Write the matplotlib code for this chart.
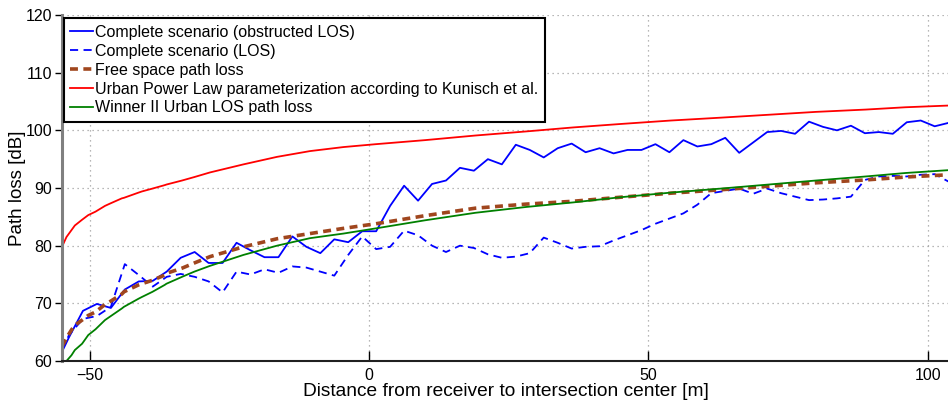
import matplotlib
matplotlib.use('Agg')
import matplotlib.pyplot as plt

plt.rcParams['font.family'] = ['Liberation Sans', 'DejaVu Sans']

# --------------------------
# DATA
# --------------------------

# measured curves, 2.5 m grid
x_meas = [-55, -53.75, -51.25, -48.75, -46.25, -43.75, -41.25, -38.75, -36.25, -33.75,
          -31.25, -28.75, -26.25, -23.75, -21.25, -18.75, -16.25, -13.75, -11.25, -8.75,
          -6.25, -3.75, -1.25, 1.25, 3.75, 6.25, 8.75, 11.25, 13.75, 16.25,
          18.75, 21.25, 23.75, 26.25, 28.75, 31.25, 33.75, 36.25, 38.75, 41.25,
          43.75, 46.25, 48.75, 51.25, 53.75, 56.25, 58.75, 61.25, 63.75, 66.25,
          68.75, 71.25, 73.75, 76.25, 78.75, 81.25, 83.75, 86.25, 88.75, 91.25,
          93.75, 96.25, 98.75, 101.25, 103.75]

obstructed_los = [61.6, 64.1, 68.7, 69.9, 69.2, 72.4, 73.8, 73.9, 75.5, 77.9,
                  78.9, 77.0, 77.0, 80.5, 79.2, 78.0, 78.0, 81.6, 79.8, 78.7,
                  81.1, 80.6, 82.5, 82.5, 86.9, 90.4, 87.8, 90.7, 91.3, 93.5,
                  93.0, 95.0, 94.1, 97.5, 96.6, 95.3, 96.9, 97.7, 96.2, 96.9,
                  96.0, 96.6, 96.6, 97.6, 96.2, 98.3, 97.2, 97.6, 98.7, 96.1,
                  97.9, 99.7, 99.9, 99.4, 101.5, 100.6, 100.0, 100.8, 99.5, 99.7,
                  99.4, 101.4, 101.7, 100.7, 101.3]

los = [61.9, 64.5, 67.3, 67.8, 69.4, 76.8, 74.9, 72.9, 74.6, 75.1,
       74.6, 73.8, 71.9, 75.5, 75.0, 75.9, 75.3, 76.4, 76.2, 75.5,
       74.8, 78.4, 81.6, 79.4, 79.8, 82.6, 81.8, 80.0, 78.9, 80.0,
       79.6, 78.5, 77.9, 78.1, 78.7, 81.4, 80.5, 79.5, 79.8, 79.9,
       80.9, 81.8, 82.7, 83.8, 84.7, 85.6, 87.1, 89.1, 89.5, 89.9,
       89.0, 89.9, 89.1, 88.5, 87.9, 88.0, 88.2, 88.5, 91.4, 92.0,
       92.1, 92.0, 92.3, 92.4, 91.1]

# model curves
x_model = [-55, -54.2, -53.3, -52.7, -51.4, -50.3, -49, -47.3, -46.4, -44.3, -43.9,
           -41.3, -40.7, -38.8, -36.6, -36.3, -33.5, -31.3, -28.5, -22.5, -16.5,
           -10.6, -4.6, 1.2, 10, 19, 28, 36.5, 45, 54, 63, 71.5, 80, 88.9, 96, 103.8]

free_space = [62.5, 64.0, 65.4, 66.2, 67.1, 67.9, 68.5, 69.8, 70.3, 71.6, 72.0,
              73.2, 73.4, 74.0, 74.9, 75.2, 76.1, 77.0, 78.1, 79.8, 81.2,
              82.1, 83.0, 83.8, 85.2, 86.5, 87.2, 87.7, 88.4, 89.1, 89.7, 90.3, 90.9, 91.4, 91.9, 92.3]

urban_power_law = [79.8, 81.5, 82.7, 83.5, 84.5, 85.3, 85.9, 86.9, 87.3, 88.2, 88.3,
                   89.2, 89.4, 89.9, 90.5, 90.6, 91.3, 91.9, 92.7, 94.1, 95.4,
                   96.4, 97.1, 97.6, 98.3, 99.1, 99.8, 100.5, 101.1, 101.7, 102.2, 102.7, 103.2, 103.6, 104.0, 104.3]

winner_los = [58.8, 60.0, 61.0, 61.9, 63.0, 64.5, 65.5, 67.1, 67.7, 69.1, 69.4,
              70.8, 71.1, 72.0, 73.2, 73.4, 74.6, 75.5, 76.5, 78.4, 80.0,
              81.3, 82.1, 83.0, 84.4, 85.7, 86.7, 87.5, 88.4, 89.2, 89.9, 90.6, 91.3, 92.0, 92.6, 93.1]

labels = ['Complete scenario (obstructed LOS)',
          'Complete scenario (LOS)',
          'Free space path loss',
          'Urban Power Law parameterization according to Kunisch et al.',
          'Winner II Urban LOS path loss']

# --------------------------
# PLOT
# --------------------------
fig = plt.figure(figsize=(9.48, 4.03), dpi=100)
ax = fig.add_axes([0.0654, 0.1042, 0.9356, 0.8586])

ax.plot(x_meas, obstructed_los, color='#0000ff', lw=1.3, label=labels[0])
ax.plot(x_meas, los, color='#0000ff', lw=1.3, dashes=(4.5, 3), label=labels[1])
ax.plot(x_model, free_space, color='#a0461e', lw=2.6, dashes=(2.2, 1.5), label=labels[2])
ax.plot(x_model, urban_power_law, color='#ff0000', lw=1.3, label=labels[3])
ax.plot(x_model, winner_los, color='#008000', lw=1.3, label=labels[4])

ax.set_xlim(-55, 103.8)
ax.set_ylim(60, 120)
ax.set_xticks([-50, 0, 50, 100])
ax.set_yticks([60, 70, 80, 90, 100, 110, 120])
ax.grid(True, color='#a0a0a0', linestyle=(0, (1, 3)), lw=0.9)

ax.spines['top'].set_visible(False)
ax.spines['right'].set_visible(False)
ax.spines['left'].set_color('#808080')
ax.spines['left'].set_linewidth(2.2)
ax.spines['bottom'].set_color('#202020')
ax.spines['bottom'].set_linewidth(1.5)
ax.tick_params(axis='x', direction='in', length=7, width=1, labelsize=11.5, pad=5)
ax.tick_params(axis='y', direction='out', length=5, width=1, labelsize=11.5, pad=2)

ax.set_xlabel('Distance from receiver to intersection center [m]', fontsize=13.8, labelpad=0)
ax.set_ylabel('Path loss [dB]', fontsize=13.5)
ax.yaxis.set_label_coords(-0.041, 0.5)

leg = ax.legend(loc='upper left', bbox_to_anchor=(0.0, 0.995), fontsize=11.5,
                frameon=True, fancybox=False, borderaxespad=0.1,
                handlelength=1.45, handletextpad=0.12, labelspacing=0.24,
                borderpad=0.42)
leg.get_frame().set_edgecolor('black')
leg.get_frame().set_linewidth(1.5)
leg.get_frame().set_alpha(1)

plt.savefig('out.png', dpi=100)
